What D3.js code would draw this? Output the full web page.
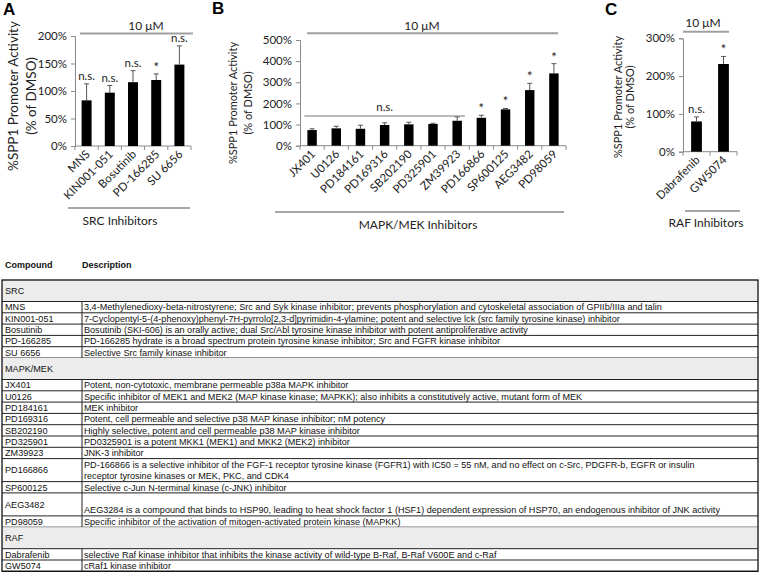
<!DOCTYPE html>
<html><head><meta charset="utf-8">
<script src="https://cdn.jsdelivr.net/npm/d3@7"></script>
<style>body{margin:0;background:#fff}svg{display:block}</style>
</head><body>
<script>
// ---------- DATA ----------
const srcCats = ["MNS","KIN001-051","Bosutinib","PD-166285","SU 6656"];
const srcVals = [83, 97, 116, 120, 148];
const srcErrs = [30, 13, 21, 11, 34];
const srcSig  = ["n.s.","n.s.","n.s.","*","n.s."];
const srcTicks = [0, 50, 100, 150, 200];

const mapkCats = ["JX401","U0126","PD184161","PD169316","SB202190","PD325901","ZM39923","PD166866","SP600125","AEG3482","PD98059"];
const mapkVals = [74, 82, 80, 98, 101, 103, 118, 132, 172, 263, 342];
const mapkErrs = [6, 10, 17, 10, 10, 3, 18, 12, 4, 32, 46];
const mapkSig  = ["","","","","","","","*","*","*","*"];
const mapkTicks = [0, 100, 200, 300, 400, 500];

const rafCats = ["Dabrafenib","GW5074"];
const rafVals = [80, 232];
const rafErrs = [12, 20];
const rafSig  = ["n.s.","*"];
const rafTicks = [0, 100, 200, 300];

const yTitle1 = "%SPP1 Promoter Activity";
const yTitle2 = "(% of DMSO)";
const concLabel = "10 \u03BCM";

const tableHead = ["Compound","Description"];
const tableGroups = ["SRC","MAPK/MEK","RAF"];
const tableCompounds = [
  ["MNS","KIN001-051","Bosutinib","PD-166285","SU 6656"],
  ["JX401","U0126","PD184161","PD169316","SB202190","PD325901","ZM39923","PD166866","SP600125","AEG3482","PD98059"],
  ["Dabrafenib","GW5074"]
];
const tableDescriptions = [
  [["3,4-Methylenedioxy-beta-nitrostyrene; Src and Syk kinase inhibitor; prevents phosphorylation and cytoskeletal association of GPIIb/IIIa and talin"],
   ["7-Cyclopentyl-5-(4-phenoxy)phenyl-7H-pyrrolo[2,3-d]pyrimidin-4-ylamine; potent and selective lck (src family tyrosine kinase) inhibitor"],
   ["Bosutinib (SKI-606) is an orally active; dual Src/Abl tyrosine kinase inhibitor with potent antiproliferative activity"],
   ["PD-166285 hydrate is a broad spectrum protein tyrosine kinase inhibitor; Src and FGFR kinase inhibitor"],
   ["Selective Src family kinase inhibitor"]],
  [["Potent, non-cytotoxic, membrane permeable p38a MAPK inhibitor"],
   ["Specific inhibitor of MEK1 and MEK2 (MAP kinase kinase; MAPKK); also inhibits a constitutively active, mutant form of MEK"],
   ["MEK inhibitor"],
   ["Potent, cell permeable and selective p38 MAP kinase inhibitor; nM potency"],
   ["Highly selective, potent and cell permeable p38 MAP kinase inhibitor"],
   ["PD0325901 is a potent MKK1 (MEK1) and MKK2 (MEK2) inhibitor"],
   ["JNK-3 inhibitor"],
   ["PD-166866 is a selective inhibitor of the FGF-1 receptor tyrosine kinase (FGFR1) with IC50 = 55 nM, and no effect on c-Src, PDGFR-b, EGFR or insulin",
    "receptor tyrosine kinases or MEK, PKC, and CDK4"],
   ["Selective c-Jun N-terminal kinase (c-JNK) inhibitor"],
   ["", "AEG3284 is a compound that binds to HSP90, leading to heat shock factor 1 (HSF1) dependent expression of HSP70, an endogenous inhibitor of JNK activity"],
   ["Specific inhibitor of the activation of mitogen-activated protein kinase (MAPKK)"]],
  [["selective Raf kinase inhibitor that inhibits the kinase activity of wild-type B-Raf, B-Raf V600E and c-Raf"],
   ["cRaf1 kinase inhibitor"]]
];
const groupLabels = ["SRC Inhibitors","MAPK/MEK Inhibitors","RAF Inhibitors"];
const panelLetters = ["A","B","C"];

// ---------- DRAW ----------
const W = 760, H = 576;
const svg = d3.select("body").append("svg").attr("width", W).attr("height", H)
  .style("background", "#fff");

const FONT = "Lato, 'Open Sans', sans-serif";
const AX = "#8a8a8a";

const panels = [
  {cats: srcCats, vals: srcVals, errs: srcErrs, sig: srcSig, ticks: srcTicks, max: 200,
   xr: [75, 191], yr: [146, 36], pad: 0.57, letter: panelLetters[0], lx: 3, ly: 15,
   tx: 13, tdx: 18, ty: 96, tsize: 13.5,
   conc: [80, 193, 33.5, 146, 30], grp: [68, 190, 208, 120, 225], grpLabel: groupLabels[0]},
  {cats: mapkCats, vals: mapkVals, errs: mapkErrs, sig: mapkSig, ticks: mapkTicks, max: 500,
   xr: [300, 566], yr: [145.7, 40], pad: 0.61, letter: panelLetters[1], lx: 212, ly: 14,
   tx: 233, tdx: 15, ty: 103, tsize: 11,
   conc: [307, 558, 33.3, 422, 30], grp: [275, 564, 212, 418, 229], grpLabel: groupLabels[1],
   nsLine: [0, 6, 116]},
  {cats: rafCats, vals: rafVals, errs: rafErrs, sig: rafSig, ticks: rafTicks, max: 300,
   xr: [683, 737], yr: [151.7, 38.3], pad: 0.6, letter: panelLetters[2], lx: 605, ly: 15,
   tx: 618, tdx: 12.5, ty: 97, tsize: 11,
   conc: [683, 729, 31.7, 703, 27], grp: [685, 740, 211, 706, 227], grpLabel: groupLabels[2]}
];

panels.forEach(p => {
  const g = svg.append("g");
  const x = d3.scaleBand().domain(p.cats).range(p.xr).paddingInner(p.pad).paddingOuter(p.pad / 2);
  const y = d3.scaleLinear().domain([0, p.max]).range(p.yr);

  g.append("text").attr("x", p.lx).attr("y", p.ly).text(p.letter)
    .attr("font-family", "'Liberation Sans', Arial, sans-serif").attr("font-weight", "bold")
    .attr("font-size", 17).attr("fill", "#000");

  const ya = g.append("g").attr("transform", `translate(${p.xr[0]},0)`)
    .call(d3.axisLeft(y).tickValues(p.ticks).tickFormat(d => d + "%").tickSizeOuter(0).tickSize(4).tickPadding(4));
  ya.select(".domain").attr("stroke", AX);
  ya.selectAll(".tick line").attr("stroke", AX);
  ya.selectAll(".tick text").attr("font-family", FONT).attr("font-size", 11.5).attr("fill", "#222");

  const y0 = y(0);
  g.append("line").attr("x1", p.xr[0]).attr("x2", p.xr[1]).attr("y1", y0).attr("y2", y0).attr("stroke", AX);
  const step = x.step();
  d3.range(p.cats.length + 1).forEach(i => {
    const xx = p.xr[0] + i * step;
    g.append("line").attr("x1", xx).attr("x2", xx).attr("y1", y0).attr("y2", y0 + 4).attr("stroke", AX);
  });

  g.selectAll("rect.bar").data(p.cats).join("rect").attr("class", "bar")
    .attr("x", d => x(d)).attr("width", x.bandwidth())
    .attr("y", (d, i) => y(p.vals[i])).attr("height", (d, i) => y0 - y(p.vals[i]))
    .attr("fill", "#000");

  p.cats.forEach((c, i) => {
    const cx = x(c) + x.bandwidth() / 2;
    const top = y(p.vals[i] + p.errs[i]);
    g.append("line").attr("x1", cx).attr("x2", cx).attr("y1", y(p.vals[i])).attr("y2", top)
      .attr("stroke", "#555").attr("stroke-width", 1);
    g.append("line").attr("x1", cx - 2.5).attr("x2", cx + 2.5).attr("y1", top).attr("y2", top)
      .attr("stroke", "#555").attr("stroke-width", 1);
    if (p.sig[i]) {
      g.append("text").attr("x", cx).attr("y", top - (p.sig[i] === "*" ? 2 : 4))
        .attr("text-anchor", "middle").attr("font-family", FONT)
        .attr("font-size", p.sig[i] === "*" ? 13 : 11.5).attr("fill", "#222").text(p.sig[i]);
    }
  });

  p.cats.forEach(c => {
    const cx = x(c) + x.bandwidth() / 2;
    g.append("text").attr("transform", `translate(${cx + 4},${y0 + 9}) rotate(-45)`)
      .attr("text-anchor", "end").attr("font-family", FONT).attr("font-size", 11.5)
      .attr("fill", "#222").text(c);
  });

  if (p.nsLine) {
    const xa = x(p.cats[p.nsLine[0]]) - 3, xb = x(p.cats[p.nsLine[1]]) + x.bandwidth() + 3;
    g.append("line").attr("x1", xa).attr("x2", xb).attr("y1", p.nsLine[2]).attr("y2", p.nsLine[2])
      .attr("stroke", "#777").attr("stroke-width", 1.2);
    g.append("text").attr("x", (xa + xb) / 2).attr("y", p.nsLine[2] - 5).attr("text-anchor", "middle")
      .attr("font-family", FONT).attr("font-size", 11.5).attr("fill", "#222").text("n.s.");
  }

  const [c1, c2, cy, ctx, cty] = p.conc;
  g.append("line").attr("x1", c1).attr("x2", c2).attr("y1", cy).attr("y2", cy)
    .attr("stroke", "#a0a0a0").attr("stroke-width", 2);
  g.append("text").attr("x", ctx).attr("y", cty).attr("text-anchor", "middle")
    .attr("font-family", FONT).attr("font-size", 12).attr("fill", "#222").text(concLabel);

  const [g1, g2, gy, gtx, gty] = p.grp;
  g.append("line").attr("x1", g1).attr("x2", g2).attr("y1", gy).attr("y2", gy)
    .attr("stroke", "#8a8a8a").attr("stroke-width", 1.5);
  g.append("text").attr("x", gtx).attr("y", gty).attr("text-anchor", "middle")
    .attr("font-family", FONT).attr("font-size", 12).attr("fill", "#222").text(p.grpLabel);

  [yTitle1, yTitle2].forEach((t, k) => {
    g.append("text").attr("transform", `translate(${p.tx + k * p.tdx},${p.ty}) rotate(-90)`)
      .attr("dy", "0.35em").attr("text-anchor", "middle").attr("font-family", FONT)
      .attr("font-size", p.tsize).attr("fill", "#222").text(t);
  });
});

// ---------- TABLE ----------
const TF = "'Liberation Sans', Arial, sans-serif";
const TS = 9.1;
const tx0 = 2, tx1 = 758, tcol = 82;
const tg = svg.append("g");
tg.append("text").attr("x", 5).attr("y", 268).text(tableHead[0])
  .attr("font-family", TF).attr("font-weight", "bold").attr("font-size", 9).attr("fill", "#111");
tg.append("text").attr("x", tcol).attr("y", 268).text(tableHead[1])
  .attr("font-family", TF).attr("font-weight", "bold").attr("font-size", 9).attr("fill", "#111");

const HH = 21.5, RH = 11.3, DH = 23;
let ty = 280;
const tTop = ty;
tableGroups.forEach((gname, gi) => {
  tg.append("rect").attr("x", tx0).attr("y", ty).attr("width", tx1 - tx0).attr("height", HH)
    .attr("fill", "#ececec");
  tg.append("text").attr("x", tx0 + 3).attr("y", ty + HH / 2 + 3.3).text(gname)
    .attr("font-family", TF).attr("font-size", TS).attr("fill", "#111");
  ty += HH;
  tg.append("line").attr("x1", tx0).attr("x2", tx1).attr("y1", ty).attr("y2", ty).attr("stroke", "#222");
  tableCompounds[gi].forEach((comp, ci) => {
    const desc = tableDescriptions[gi][ci];
    const h = desc.length > 1 ? DH : RH;
    tg.append("text").attr("x", tx0 + 3).attr("y", ty + h / 2 + 3.3).text(comp)
      .attr("font-family", TF).attr("font-size", TS).attr("fill", "#111");
    desc.forEach((line, li) => {
      const by = desc.length > 1 ? ty + 9 + li * 11.3 : ty + h / 2 + 3.3;
      tg.append("text").attr("x", tcol + 2).attr("y", by).text(line)
        .attr("font-family", TF).attr("font-size", TS).attr("fill", "#111");
    });
    tg.append("line").attr("x1", tcol).attr("x2", tcol).attr("y1", ty).attr("y2", ty + h).attr("stroke", "#222");
    ty += h;
    tg.append("line").attr("x1", tx0).attr("x2", tx1).attr("y1", ty).attr("y2", ty).attr("stroke", "#222");
  });
});
tg.append("rect").attr("x", tx0).attr("y", tTop).attr("width", tx1 - tx0).attr("height", ty - tTop)
  .attr("fill", "none").attr("stroke", "#111").attr("stroke-width", 1.3);
</script>
</body></html>
